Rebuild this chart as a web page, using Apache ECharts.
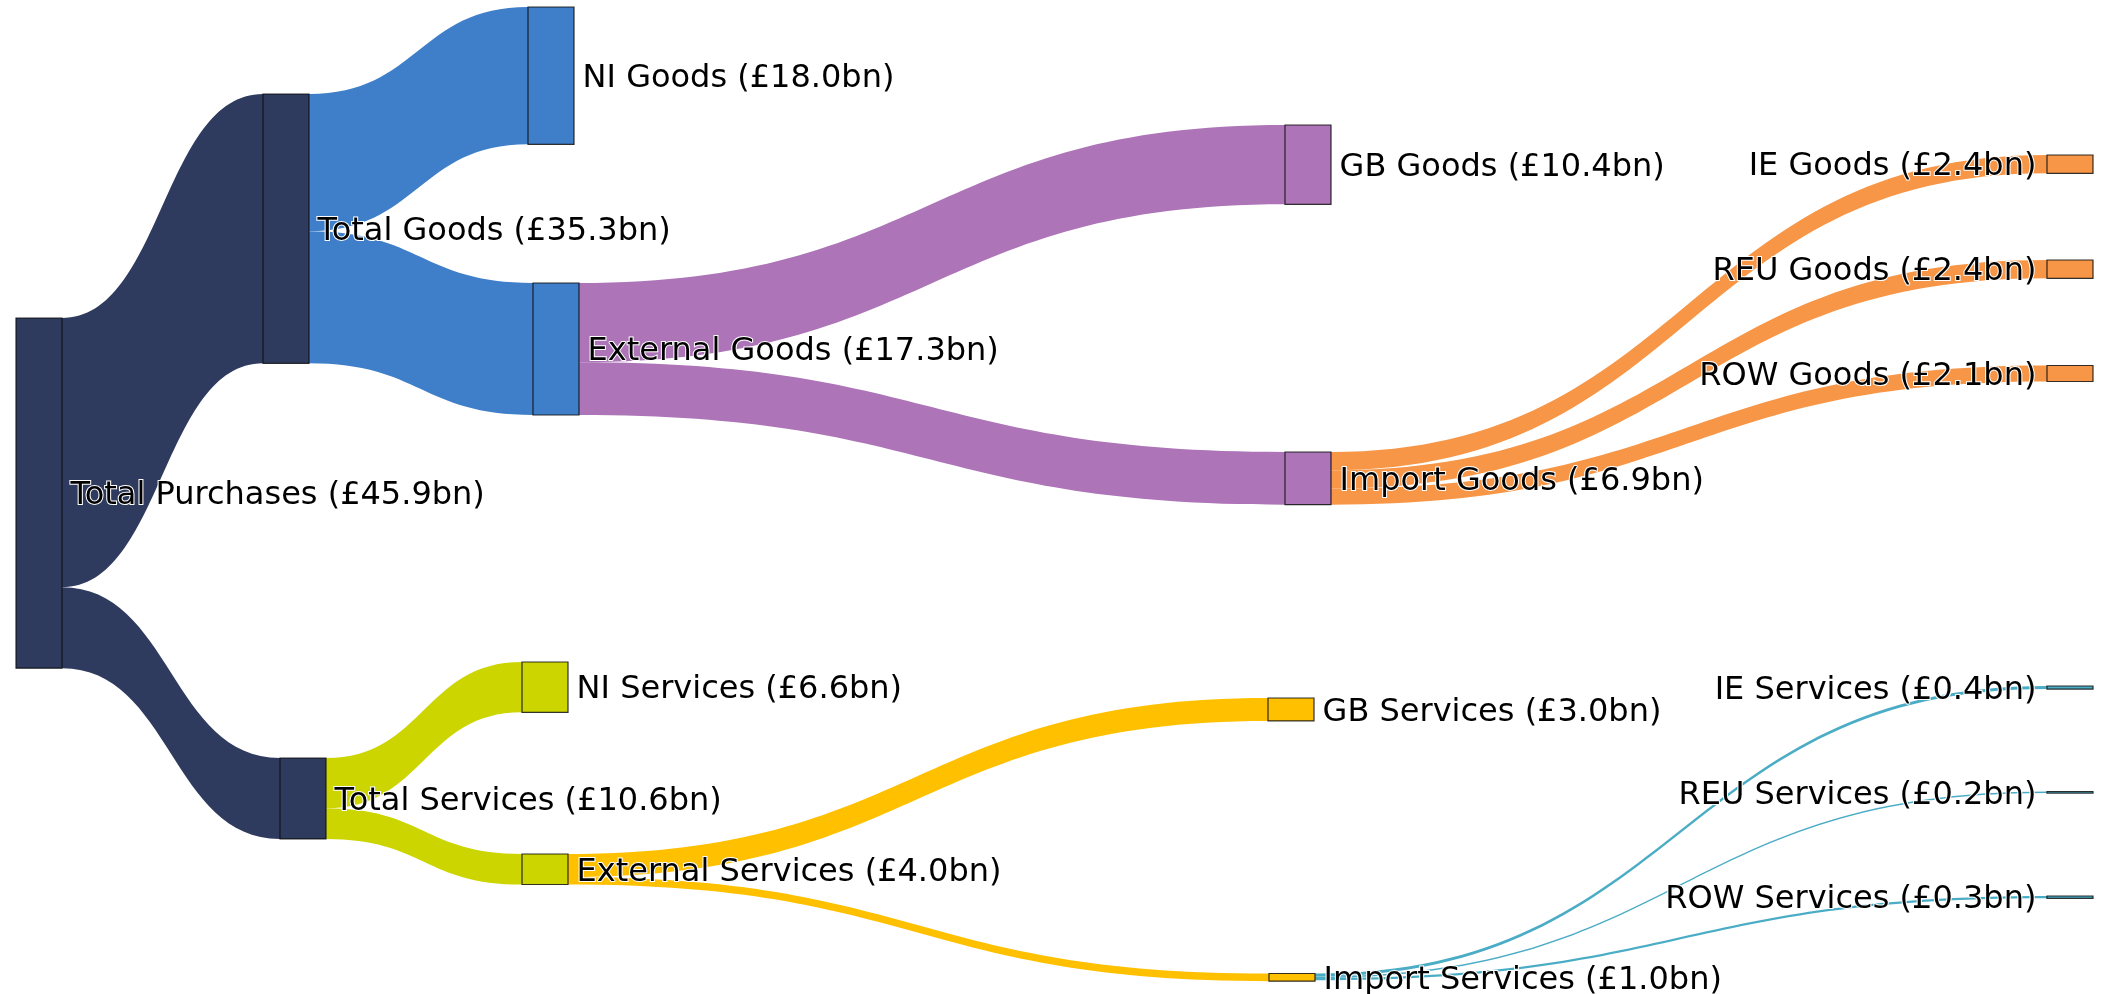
<!DOCTYPE html>
<html>
<head>
<meta charset="utf-8">
<script src="https://cdn.jsdelivr.net/npm/echarts@6/dist/echarts.min.js"></script>
<style>
html,body{margin:0;padding:0;background:#fff;}
#chart{width:2111px;height:994px;}
</style>
</head>
<body>
<div id="chart"></div>
<script>
// ---- data ----
const nodeNames = ['Total Purchases','Total Goods','Total Services',
  'NI Goods','External Goods','NI Services','External Services',
  'GB Goods','Import Goods','GB Services','Import Services',
  'IE Goods','REU Goods','ROW Goods','IE Services','REU Services','ROW Services'];
const nodeValues = [45.9,35.3,10.6, 18.0,17.3,6.6,4.0, 10.4,6.9,3.0,1.0, 2.4,2.4,2.1,0.4,0.2,0.3];
const linkSources = ['Total Purchases','Total Purchases','Total Goods','Total Goods','Total Services','Total Services',
  'External Goods','External Goods','External Services','External Services',
  'Import Goods','Import Goods','Import Goods','Import Services','Import Services','Import Services'];
const linkTargets = ['Total Goods','Total Services','NI Goods','External Goods','NI Services','External Services',
  'GB Goods','Import Goods','GB Services','Import Services',
  'IE Goods','REU Goods','ROW Goods','IE Services','REU Services','ROW Services'];
const linkValues = [35.3,10.6,18.0,17.3,6.6,4.0,10.4,6.9,3.0,1.0,2.4,2.4,2.1,0.4,0.2,0.3];

// ---- layout / style (not data) ----
const W = 2111, H = 994, KY = 7.63;
const nodeDepth = [0,1,1,2,2,2,2,3,3,3,3,4,4,4,5,5,5];
const nodeX = [16,263,280,528,533,522,522,1285,1285,1268,1269,2047,2047,2047,2047,2047,2047];
const nodeY = [318,94,758,7,283,662,854,125,452,698,973.5,155,260,365.5,686,791.5,896];
const nodeColor = ['#2E3A5E','#2E3A5E','#2E3A5E','#3F7EC8','#3F7EC8','#CCD500','#CCD500',
  '#AD74B8','#AD74B8','#FFC000','#FFC000','#F79646','#F79646','#F79646','#4BACC6','#4BACC6','#4BACC6'];
const colorOf = {}; nodeNames.forEach((n,i)=>colorOf[n]=nodeColor[i]);
const maxColumn = 45.9;
const gap = (H - maxColumn*KY)/3;

const nodes = nodeNames.map((n,i)=>({
  name: n,
  value: nodeValues[i],
  depth: nodeDepth[i],
  localX: nodeX[i]/W,
  localY: nodeY[i]/H,
  itemStyle: {color: nodeColor[i]},
  label: nodeDepth[i] >= 4 ? {position:'left', distance: 10} : {position:'right', distance: 8}
}));
const links = linkSources.map((s,i)=>({
  source: s, target: linkTargets[i], value: linkValues[i],
  lineStyle: {color: colorOf[linkTargets[i]], opacity: 1}
}));

const chart = echarts.init(document.getElementById('chart'), null, {renderer:'canvas'});
chart.setOption({
  animation: false,
  backgroundColor: '#fff',
  series: [{
    type: 'sankey',
    left: 0, top: 0, width: W, height: H,
    nodeWidth: 46,
    nodeGap: gap,
    layoutIterations: 0,
    draggable: false,
    emphasis: {disabled: true},
    itemStyle: {borderColor: 'rgba(15,15,15,0.85)', borderWidth: 1.2},
    lineStyle: {curveness: 0.5, opacity: 1},
    label: {
      show: true,
      fontFamily: 'DejaVu Sans',
      fontSize: 32,
      color: '#000',
      textBorderColor: '#fff',
      textBorderWidth: 2,
      offset: [0, 3],
      formatter: p => p.name + ' (£' + nodeValues[nodeNames.indexOf(p.name)].toFixed(1) + 'bn)'
    },
    data: nodes,
    links: links
  }]
});
</script>
</body>
</html>
